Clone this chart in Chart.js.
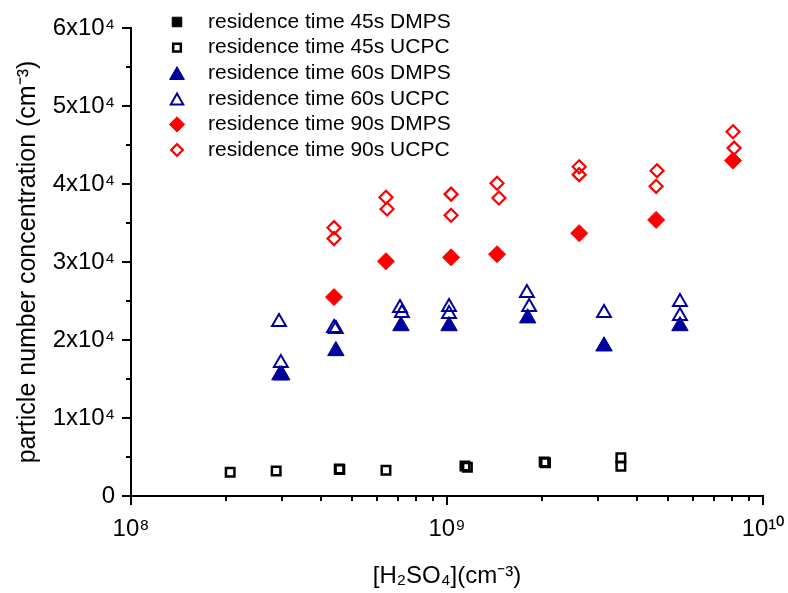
<!DOCTYPE html>
<html>
<head>
<meta charset="utf-8">
<script src="https://cdn.jsdelivr.net/npm/chart.js@4.4.1/dist/chart.umd.min.js"></script>
<style>
  html, body { margin: 0; padding: 0; background: #fff; }
</style>
</head>
<body>
<canvas id="myChart" width="788" height="593"></canvas>
<script>
// values
const x45dmps = []
const y45dmps = []
const x45ucpc = [2.06e8, 2.88e8, 4.56e8, 4.58e8, 6.41e8, 1.14e9, 1.16e9, 2.03e9, 2.05e9, 3.55e9, 3.55e9]
const y45ucpc = [3050, 3200, 3450, 3400, 3300, 3850, 3700, 4350, 4250, 4900, 3800]
const x60dmps = [2.96e8, 3.0e8, 4.45e8, 7.15e8, 1.015e9, 1.8e9, 3.14e9, 5.46e9]
const y60dmps = [15500, 15500, 18600, 21800, 21800, 22800, 19200, 21800]
const x60ucpc = [2.94e8, 2.98e8, 4.39e8, 4.45e8, 7.1e8, 7.2e8, 1.015e9, 1.015e9, 1.79e9, 1.82e9, 3.14e9, 5.46e9, 5.46e9]
const y60ucpc = [22300, 17050, 21540, 21400, 24100, 23460, 24230, 23330, 26030, 24230, 23460, 24870, 23080]
const x90dmps = [4.39e8, 6.41e8, 1.03e9, 1.44e9, 2.62e9, 4.59e9, 8.04e9]
const y90dmps = [25500, 30100, 30600, 31000, 33700, 35400, 43000]
const x90ucpc = [4.39e8, 4.39e8, 6.41e8, 6.46e8, 1.03e9, 1.03e9, 1.44e9, 1.46e9, 2.62e9, 2.62e9, 4.62e9, 4.59e9, 8.04e9, 8.1e9]
const y90ucpc = [34400, 33000, 38300, 36800, 38700, 36000, 40100, 38200, 42200, 41200, 41700, 39700, 46700, 44600]

const seriesNames = [
  "residence time 45s DMPS",
  "residence time 45s UCPC",
  "residence time 60s DMPS",
  "residence time 60s UCPC",
  "residence time 90s DMPS",
  "residence time 90s UCPC",
]

const xTickValues = [1e8, 2e8, 3e8, 4e8, 5e8, 6e8, 7e8, 8e8, 9e8, 1e9, 2e9, 3e9, 4e9, 5e9, 6e9, 7e9, 8e9, 9e9, 1e10]
const xMajorTicks = [1e8, 1e9, 1e10]
const xTickLabels = ["10\u2078", "10\u2079", "10\u00b9\u2070"]
const yTickValues = [0, 5000, 10000, 15000, 20000, 25000, 30000, 35000, 40000, 45000, 50000, 55000, 60000]
const yMajorTicks = [0, 10000, 20000, 30000, 40000, 50000, 60000]
const yTickLabels = ["0", "1x10\u2074", "2x10\u2074", "3x10\u2074", "4x10\u2074", "5x10\u2074", "6x10\u2074"]

const FONT = "'Liberation Sans', Arial, sans-serif"
const BLUE = "#00009c"
const RED = "#ff0000"
const NONE = "rgba(0,0,0,0)"

function pts(xs, ys) {
  let out = []
  for (let i = 0; i < xs.length; i++) out.push({ x: xs[i], y: ys[i] })
  return out
}

const styles = [
  { pointStyle: "rect", radius: 7.5, fill: "#000", stroke: "#000", bw: 1 },
  { pointStyle: "rect", radius: 6, fill: NONE, stroke: "#000", bw: 2.5 },
  { pointStyle: "triangle", radius: 9.5, fill: BLUE, stroke: BLUE, bw: 1 },
  { pointStyle: "triangle", radius: 8, fill: NONE, stroke: BLUE, bw: 2 },
  { pointStyle: "rectRot", radius: 8.5, fill: RED, stroke: RED, bw: 1 },
  { pointStyle: "rectRot", radius: 6.5, fill: NONE, stroke: RED, bw: 2.2 },
]

const seriesData = [
  pts(x45dmps, y45dmps), pts(x45ucpc, y45ucpc),
  pts(x60dmps, y60dmps), pts(x60ucpc, y60ucpc),
  pts(x90dmps, y90dmps), pts(x90ucpc, y90ucpc),
]

function drawMarker(ctx, s, x, y) {
  let r = s.radius
  ctx.beginPath()
  if (s.pointStyle === "rect") {
    let h = r * Math.SQRT1_2
    ctx.rect(x - h, y - h, 2 * h, 2 * h)
  } else if (s.pointStyle === "triangle") {
    ctx.moveTo(x, y - r)
    ctx.lineTo(x + 0.866 * r, y + 0.5 * r)
    ctx.lineTo(x - 0.866 * r, y + 0.5 * r)
    ctx.closePath()
  } else {
    ctx.moveTo(x - r, y)
    ctx.lineTo(x, y - r)
    ctx.lineTo(x + r, y)
    ctx.lineTo(x, y + r)
    ctx.closePath()
  }
  ctx.fillStyle = s.fill
  ctx.fill()
  ctx.lineWidth = s.bw
  ctx.strokeStyle = s.stroke
  ctx.stroke()
}

// short minor ticks, longer major ticks, drawn outside the axes
const tickMarks = {
  id: "tickMarks",
  afterDraw(chart) {
    const ctx = chart.ctx
    const xs = chart.scales.x
    const ys = chart.scales.y
    const area = chart.chartArea
    ctx.save()
    ctx.strokeStyle = "#000"
    ctx.lineWidth = 2
    ctx.beginPath()
    xs.ticks.forEach(t => {
      const px = Math.round(xs.getPixelForValue(t.value))
      const len = xMajorTicks.includes(t.value) ? 9 : 5
      ctx.moveTo(px, area.bottom)
      ctx.lineTo(px, area.bottom + len)
    })
    ys.ticks.forEach(t => {
      const py = Math.round(ys.getPixelForValue(t.value))
      const len = yMajorTicks.includes(t.value) ? 9 : 5
      ctx.moveTo(area.left, py)
      ctx.lineTo(area.left - len, py)
    })
    ctx.stroke()
    ctx.restore()
  }
}

const insideLegend = {
  id: "insideLegend",
  afterDraw(chart) {
    const ctx = chart.ctx
    ctx.save()
    ctx.font = "21px " + FONT
    ctx.textBaseline = "middle"
    for (let i = 0; i < seriesNames.length; i++) {
      const y = 22 + i * 25.6
      let s = Object.assign({}, styles[i], { radius: styles[i].radius * 0.9 })
      drawMarker(ctx, s, 177, s.pointStyle === "triangle" ? y + 2 : y)
      ctx.fillStyle = "#000"
      ctx.fillText(seriesNames[i], 208, y)
    }
    ctx.restore()
  }
}

function drawChart() {
  const ctx = document.getElementById("myChart")
  let datasets = []
  for (let i = 0; i < seriesNames.length; i++) {
    datasets.push({
      label: seriesNames[i],
      data: seriesData[i],
      pointStyle: styles[i].pointStyle,
      pointRadius: styles[i].radius,
      pointHoverRadius: styles[i].radius,
      pointBackgroundColor: styles[i].fill,
      pointBorderColor: styles[i].stroke,
      pointBorderWidth: styles[i].bw,
      showLine: false,
    })
  }

  new Chart(ctx, {
    type: "scatter",
    data: { datasets: datasets },
    plugins: [tickMarks, insideLegend],
    options: {
      responsive: false,
      animation: false,
      layout: { padding: { top: 28, right: 25, left: 0, bottom: 0 } },
      plugins: { legend: { display: false }, tooltip: { enabled: false } },
      scales: {
        x: {
          type: "logarithmic",
          min: 1e8,
          max: 1e10,
          afterBuildTicks: s => { s.ticks = xTickValues.map(v => ({ value: v })) },
          afterFit: s => {
            s.height = 97
            s.paddingLeft = 0
            s.paddingRight = 0
          },
          grid: { display: false },
          border: { display: true, color: "#000", width: 2 },
          ticks: {
            autoSkip: false,
            maxRotation: 0,
            padding: 11,
            color: "#000",
            font: { family: FONT, size: 24 },
            callback: v => {
              const i = xMajorTicks.indexOf(v)
              return i >= 0 ? xTickLabels[i] : ""
            },
          },
          title: {
            display: true,
            text: "[H\u2082SO\u2084](cm\u207b\u00b3)",
            color: "#000",
            font: { family: FONT, size: 24 },
            padding: { top: 0, bottom: 2 },
          },
        },
        y: {
          min: 0,
          max: 60000,
          afterBuildTicks: s => { s.ticks = yTickValues.map(v => ({ value: v })) },
          afterFit: s => { s.width = 131 },
          grid: { display: false },
          border: { display: true, color: "#000", width: 2 },
          ticks: {
            autoSkip: false,
            padding: 8,
            color: "#000",
            font: { family: FONT, size: 24 },
            callback: v => {
              const i = yMajorTicks.indexOf(v)
              return i >= 0 ? yTickLabels[i] : ""
            },
          },
          title: {
            display: true,
            text: "particle number concentration (cm\u207b\u00b3)",
            color: "#000",
            font: { family: FONT, size: 25 },
            padding: { top: 13, bottom: 0 },
          },
        },
      },
    },
  })
}

document.addEventListener("DOMContentLoaded", drawChart)
</script>
</body>
</html>
